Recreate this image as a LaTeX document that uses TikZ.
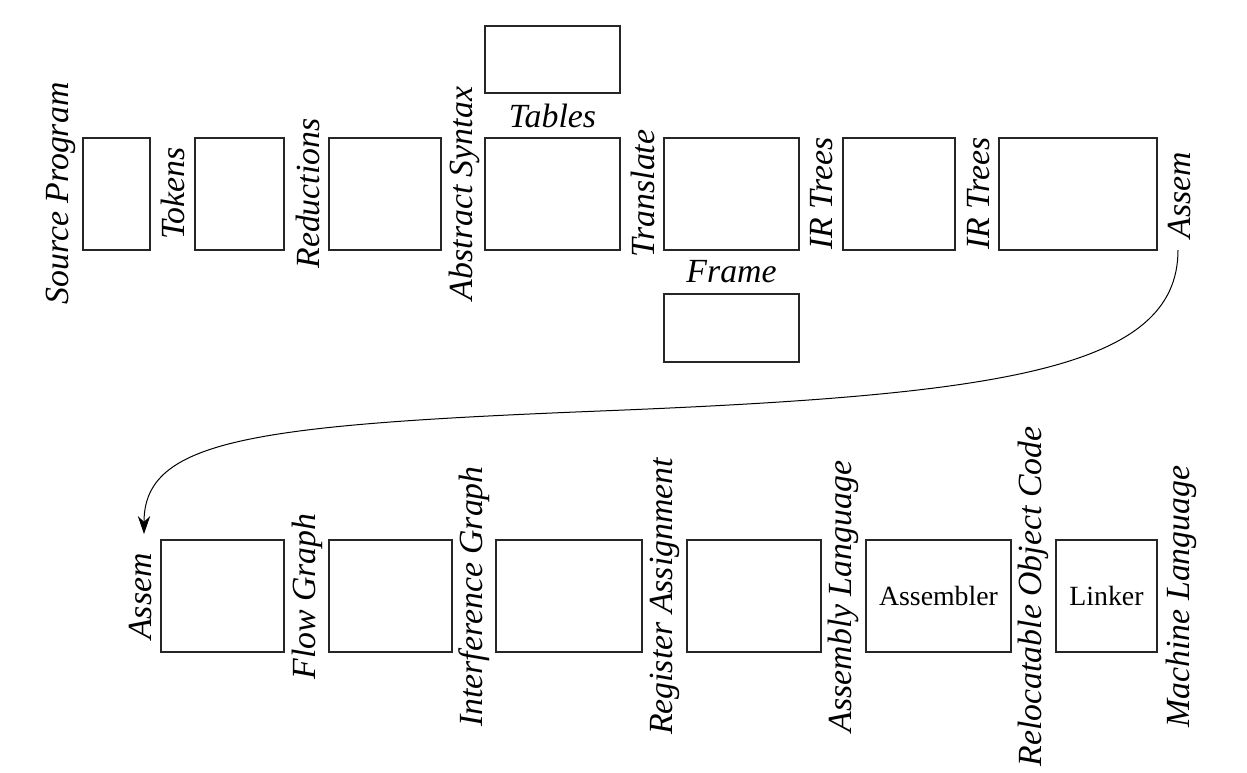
\documentclass[tikz,border=0pt]{standalone}
\usepackage{fontspec}
\setmainfont{Liberation Serif}
\usetikzlibrary{arrows.meta}
\begin{document}
\begin{tikzpicture}[x=0.5pt,y=-0.5pt,
  stage/.style={draw=black!85,line width=0.6pt},
  vlab/.style={rotate=90,inner sep=0pt,anchor=center,font=\fontsize{16.9}{18}\selectfont\itshape},
  hlab/.style={inner sep=0pt,anchor=center,font=\fontsize{16.9}{18}\selectfont\itshape},
  btext/.style={font=\fontsize{13.9}{16}\selectfont},
  flow/.style={line width=0.5pt,-{Stealth[length=9pt,width=6.2pt]}}]
\useasboundingbox (0,0) rectangle (1247,772);
% top row boxes
\draw[stage] (83,138) rectangle (150,250);
\draw[stage] (195,138) rectangle (284,250);
\draw[stage] (329,138) rectangle (441,250);
\draw[stage] (485,138) rectangle (620,250);
\draw[stage] (485,26) rectangle (620,93);
\draw[stage] (664,138) rectangle (799,250);
\draw[stage] (664,294) rectangle (799,362);
\draw[stage] (843,138) rectangle (955,250);
\draw[stage] (999,138) rectangle (1157,250);
% top row labels
\node[vlab] (src) at (61,193.5) {Source Program};
\node[vlab] (tok) at (173.3,193.5) {Tokens};
\node[vlab] (red) at (307.5,193.5) {Reductions};
\node[vlab] (abs) at (464.2,193.5) {Abstract Syntax};
\node[hlab] (tab) at (552.5,116) {Tables};
\node[vlab] (tra) at (643,193.5) {Translate};
\node[hlab] (fra) at (731.5,272) {Frame};
\node[vlab] (ir1) at (821.7,193.5) {IR Trees};
\node[vlab] (ir2) at (978.3,193.5) {IR Trees};
\node[vlab] (asmA) at (1179,195) {Assem};
% bottom row boxes
\draw[stage] (161,540) rectangle (284,652);
\draw[stage] (329,540) rectangle (452,652);
\draw[stage] (496,540) rectangle (642,652);
\draw[stage] (687,540) rectangle (821,652);
\node[stage,btext,minimum width=145*0.5pt,minimum height=112*0.5pt,inner sep=0pt] (asmb) at (938.5,596) {Assembler};
\node[stage,btext,minimum width=101*0.5pt,minimum height=112*0.5pt,inner sep=0pt] (lnk) at (1106.5,596) {Linker};
% bottom row labels
\node[vlab] (asmB) at (140.5,596.5) {Assem};
\node[vlab] (flg) at (307.5,596.5) {Flow Graph};
\node[vlab] (ifg) at (474.2,596.5) {Interference Graph};
\node[vlab] (reg) at (664.5,596.5) {Register Assignment};
\node[vlab] (asl) at (843.5,596.5) {Assembly Language};
\node[vlab] (roc) at (1033.5,596.5) {Relocatable Object Code};
\node[vlab] (mach) at (1181,596.5) {Machine Language};
% connector
\coordinate (arrS) at (1178,250);
\coordinate (arrE) at (144,534);
\draw[flow] (arrS) .. controls (1178,370) and (1000,395) .. (600,411)
  .. controls (250,425) and (144,440) .. (arrE);
\end{tikzpicture}
\end{document}
